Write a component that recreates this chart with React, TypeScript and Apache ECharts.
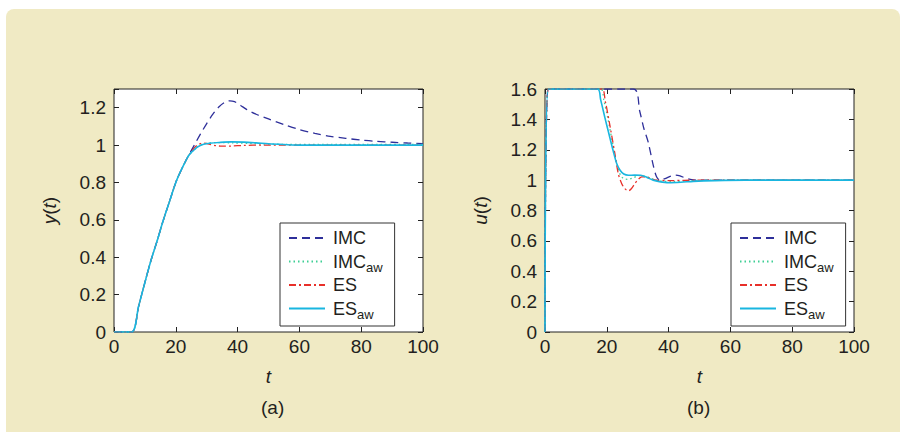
import React, { useEffect, useRef } from "react";
import * as echarts from "echarts";

const FONT = "'Liberation Sans', Arial, Helvetica, sans-serif";
const INK = "#231f20";

const seriesNames = ["IMC", "IMC_aw", "ES", "ES_aw"];
const seriesColors = ["#2e2f9a", "#3fcf95", "#e8302a", "#19b6e0"];
const seriesDash: (number[] | "solid")[] = [[8, 5], [1.5, 3], [7, 3, 2, 3], "solid"];

// (a) output y(t): common rising segment shared by all four responses
const riseT = [0, 5.7, 8, 10, 12, 14, 16, 18, 20, 22, 24];
const riseY = [0, 0, 0.14, 0.265, 0.385, 0.49, 0.6, 0.7, 0.8, 0.875, 0.94];

const yImcT = [26, 28, 30, 32, 34, 36, 37.5, 39, 41, 43, 46, 50, 55, 60, 65, 70, 75, 80, 85, 90, 95, 100];
const yImcV = [1.0, 1.06, 1.115, 1.165, 1.205, 1.23, 1.237, 1.232, 1.212, 1.19, 1.165, 1.14, 1.11, 1.083, 1.063, 1.047, 1.036, 1.027, 1.02, 1.015, 1.011, 1.008];

const yImcAwT = [25, 26, 28, 30, 33, 38, 45, 55, 70, 100];
const yImcAwV = [0.96, 0.98, 1.0, 1.01, 1.013, 1.012, 1.008, 1.004, 1.003, 1.003];

const yEsT = [25, 26, 27, 28, 29, 31, 33, 35, 38, 42, 48, 100];
const yEsV = [0.965, 0.985, 1.0, 1.008, 1.01, 1.004, 0.997, 0.994, 0.995, 0.998, 1.0, 1.0];

const yEsAwT = [25, 26, 27, 29, 31, 34, 38, 42, 46, 50, 55, 60, 100];
const yEsAwV = [0.96, 0.975, 0.99, 1.004, 1.01, 1.014, 1.017, 1.016, 1.012, 1.007, 1.003, 1.0, 1.0];

// (b) control signal u(t)
const uImcT = [0, 1, 28.6, 30.7, 32, 33.4, 35, 36.1, 37.2, 38.8, 40.5, 42.1, 43.7, 45.3, 47, 49, 100];
const uImcV = [0, 1.6, 1.6, 1.45, 1.34, 1.25, 1.1, 1.022, 1.0, 1.01, 1.025, 1.033, 1.028, 1.015, 1.005, 1.0, 1.0];

const uImcAwT = [0, 1, 18, 19, 20.5, 22, 23.5, 24.5, 25.5, 27, 28.5, 30.5, 32.5, 34.5, 37, 41, 46, 55, 100];
const uImcAwV = [0, 1.6, 1.6, 1.53, 1.39, 1.23, 1.09, 1.03, 1.01, 1.005, 1.015, 1.03, 1.025, 1.01, 0.995, 0.99, 0.995, 1.0, 1.0];

const uEsT = [0, 1, 18.3, 19.5, 21, 22.7, 23.7, 24.8, 25.8, 27, 28, 29.1, 30.2, 31.3, 32.5, 34, 36, 40, 50, 100];
const uEsV = [0, 1.6, 1.6, 1.52, 1.36, 1.165, 1.044, 0.978, 0.945, 0.93, 0.945, 0.978, 1.005, 1.022, 1.022, 1.012, 1.0, 0.997, 1.0, 1.0];

const uEsAwT = [0, 1, 17, 18, 19.4, 20.5, 22.1, 23.2, 24.3, 25.5, 27, 29, 31, 33, 35, 37, 40, 44, 48, 55, 65, 100];
const uEsAwV = [0, 1.6, 1.6, 1.53, 1.41, 1.32, 1.19, 1.11, 1.065, 1.04, 1.032, 1.033, 1.032, 1.018, 1.0, 0.99, 0.983, 0.986, 0.992, 0.997, 1.0, 1.0];

const xTickStep = 20;
const yTickStep = 0.2;

const zip = (t: number[], v: number[]) => t.map((x, i) => [x, v[i]]);

const leftSeriesData = [
  zip(riseT.concat(yImcT), riseY.concat(yImcV)),
  zip(riseT.concat(yImcAwT), riseY.concat(yImcAwV)),
  zip(riseT.concat(yEsT), riseY.concat(yEsV)),
  zip(riseT.concat(yEsAwT), riseY.concat(yEsAwV)),
];
const rightSeriesData = [
  zip(uImcT, uImcV),
  zip(uImcAwT, uImcAwV),
  zip(uEsT, uEsV),
  zip(uEsAwT, uEsAwV),
];

// legend labels: base name plus a lowered, smaller subscript
const legendRich = {
  b: { fontSize: 18, fontFamily: FONT, color: INK, lineHeight: 18, padding: [2, 0, 2, 3] },
  s: { fontSize: 13, fontFamily: FONT, color: INK, lineHeight: 10, padding: [12, 0, 0, 0] },
};
const legendFormatter = (name: string) => {
  const [base, sub] = name.split("_");
  return sub ? `{b|${base}}{s|${sub}}` : `{b|${base}}`;
};

const nameRich = {
  i: { fontSize: 19, fontFamily: FONT, fontStyle: "italic", color: INK },
  n: { fontSize: 19, fontFamily: FONT, color: INK },
};

function buildAxes(gridIndex: number, yMax: number, yVar: string) {
  const tickLine = { show: true, inside: true, length: 5, lineStyle: { color: "#222", width: 1 } };
  const hiddenLine = { show: false, onZero: false };
  const label = { color: INK, fontSize: 19, fontFamily: FONT };
  const xAxes = [
    {
      type: "value", gridIndex, min: 0, max: 100, interval: xTickStep,
      axisLine: hiddenLine, axisTick: tickLine, splitLine: { show: false },
      axisLabel: { ...label, margin: 5 },
      name: "{i|t}", nameLocation: "middle", nameGap: 35,
      nameTextStyle: { rich: nameRich },
    },
    {
      type: "value", gridIndex, position: "top", min: 0, max: 100, interval: xTickStep,
      axisLine: hiddenLine, axisTick: tickLine, splitLine: { show: false },
      axisLabel: { show: false },
    },
  ];
  const yAxes = [
    {
      type: "value", gridIndex, min: 0, max: yMax, interval: yTickStep,
      axisLine: hiddenLine, axisTick: tickLine, splitLine: { show: false },
      axisLabel: {
        ...label, margin: 8,
        formatter: (v: number) => (Math.abs(v / yTickStep - Math.round(v / yTickStep)) < 1e-6 ? String(+v.toFixed(1)) : ""),
      },
      name: `{i|${yVar}}{n|(}{i|t}{n|)}`, nameLocation: "middle", nameRotate: 90, nameGap: 55,
      nameTextStyle: { rich: nameRich },
    },
    {
      type: "value", gridIndex, position: "right", min: 0, max: yMax, interval: yTickStep,
      axisLine: hiddenLine, axisTick: tickLine, splitLine: { show: false },
      axisLabel: { show: false },
    },
  ];
  return { xAxes, yAxes };
}

function lineSeries(data: number[][][], axisIndex: number) {
  return data.map((d, i) => ({
    type: "line",
    name: seriesNames[i],
    xAxisIndex: axisIndex,
    yAxisIndex: axisIndex,
    data: d,
    symbol: "none",
    showSymbol: false,
    smooth: 0.3,
    lineStyle: { color: seriesColors[i], width: i === 3 ? 1.6 : 1.3, type: seriesDash[i] },
    itemStyle: { color: seriesColors[i] },
  }));
}

function legendAt(left: number) {
  return {
    left, top: 223, orient: "vertical",
    padding: [4, 12, 5, 8], itemGap: 0, itemWidth: 36, itemHeight: 10,
    borderColor: "#333", borderWidth: 1, borderRadius: 0, backgroundColor: "#fff",
    selectedMode: false,
    data: seriesNames,
    formatter: legendFormatter,
    itemStyle: { opacity: 0 },
    textStyle: { rich: legendRich, fontSize: 18, fontFamily: FONT, color: INK },
  };
}

export default function App() {
  const ref = useRef<HTMLDivElement>(null);

  useEffect(() => {
    if (!ref.current) return;
    const chart = echarts.init(ref.current, null, { renderer: "svg" });
    const a = buildAxes(0, 1.3, "y");
    const b = buildAxes(1, 1.6, "u");
    const gridStyle = { show: true, backgroundColor: "#fff", borderColor: "#222", borderWidth: 1 };
    chart.setOption({
      animation: false,
      backgroundColor: "#ffffff",
      textStyle: { fontFamily: FONT },
      graphic: [
        {
          type: "rect", z: -10, silent: true,
          shape: { x: 6, y: 9, width: 894, height: 430, r: [8, 8, 0, 0] },
          style: { fill: "#f0eac4" },
        },
        {
          type: "text", left: 261, top: 398,
          style: { text: "(a)", fontSize: 19, fontFamily: FONT, fill: INK },
        },
        {
          type: "text", left: 687, top: 398,
          style: { text: "(b)", fontSize: 19, fontFamily: FONT, fill: INK },
        },
      ],
      grid: [
        { left: 114, top: 89, width: 309, height: 243, ...gridStyle },
        { left: 545, top: 89, width: 309, height: 243, ...gridStyle },
      ],
      xAxis: [a.xAxes[0], b.xAxes[0], a.xAxes[1], b.xAxes[1]],
      yAxis: [a.yAxes[0], b.yAxes[0], a.yAxes[1], b.yAxes[1]],
      legend: [legendAt(280), legendAt(731)],
      series: [...lineSeries(leftSeriesData, 0), ...lineSeries(rightSeriesData, 1)],
    });
    return () => chart.dispose();
  }, []);

  return (
    <div
      ref={ref}
      style={{ position: "fixed", left: 0, top: 0, width: 902, height: 432 }}
    />
  );
}
